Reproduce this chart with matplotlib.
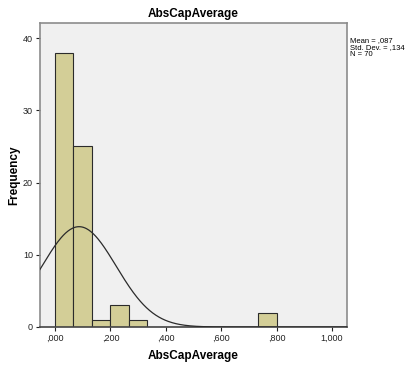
import numpy as np
import matplotlib.pyplot as plt

# histogram data
bin_edges = np.linspace(0.0, 0.8, 13)
counts = [38, 25, 1, 3, 1, 0, 0, 0, 0, 0, 0, 2]
mean_val = 0.087
std_val = 0.134
n_obs = 70

x_ticks = [0.0, 0.2, 0.4, 0.6, 0.8, 1.0]
x_tick_labels = [',000', ',200', ',400', ',600', ',800', '1,000']
y_ticks = [0, 10, 20, 30, 40]
y_tick_labels = ['0', '10', '20', '30', '40']

plt.rcParams['font.family'] = ['Liberation Sans', 'DejaVu Sans']

fig = plt.figure(figsize=(4.11, 3.65), dpi=100)
ax = fig.add_axes([40 / 411, 38 / 365, 307 / 411, 304 / 365])
ax.set_facecolor('#f0f0f0')

widths = np.diff(bin_edges)
ax.bar(bin_edges[:-1], counts, width=widths, align='edge',
       color='#d3ce97', edgecolor='#2b2b2b', linewidth=0.8, zorder=2)

# normal curve scaled to counts
xs = np.linspace(-0.06, 1.06, 400)
bw = widths[0]
ys = n_obs * bw / (std_val * np.sqrt(2 * np.pi)) * np.exp(-0.5 * ((xs - mean_val) / std_val) ** 2)
ax.plot(xs, ys, color='#2b2b2b', linewidth=0.9, zorder=3)

ax.set_xlim(-0.054, 1.054)
ax.set_ylim(0, 42.1)
ax.set_xticks(x_ticks)
ax.set_xticklabels(x_tick_labels, fontsize=6.5)
ax.set_yticks(y_ticks)
ax.set_yticklabels(y_tick_labels, fontsize=6.5)
ax.tick_params(axis='both', direction='out', length=3, width=0.8, pad=2, colors='#222222')

for s in ax.spines.values():
    s.set_color('#8c8c8c')
    s.set_linewidth(1.2)
ax.spines['bottom'].set_color('#444444')

ax.set_title('AbsCapAverage', fontsize=8.5, fontweight='bold', pad=4)
ax.set_xlabel('AbsCapAverage', fontsize=8.5, fontweight='bold', labelpad=5)
ax.set_ylabel('Frequency', fontsize=8.5, fontweight='bold', labelpad=2)

fig.text(350 / 411, 1 - 37 / 365, 'Mean = ,087\nStd. Dev. = ,134\nN = 70',
         fontsize=5.5, va='top', ha='left', linespacing=1.0)

fig.savefig('out.png', dpi=100, facecolor='white')
